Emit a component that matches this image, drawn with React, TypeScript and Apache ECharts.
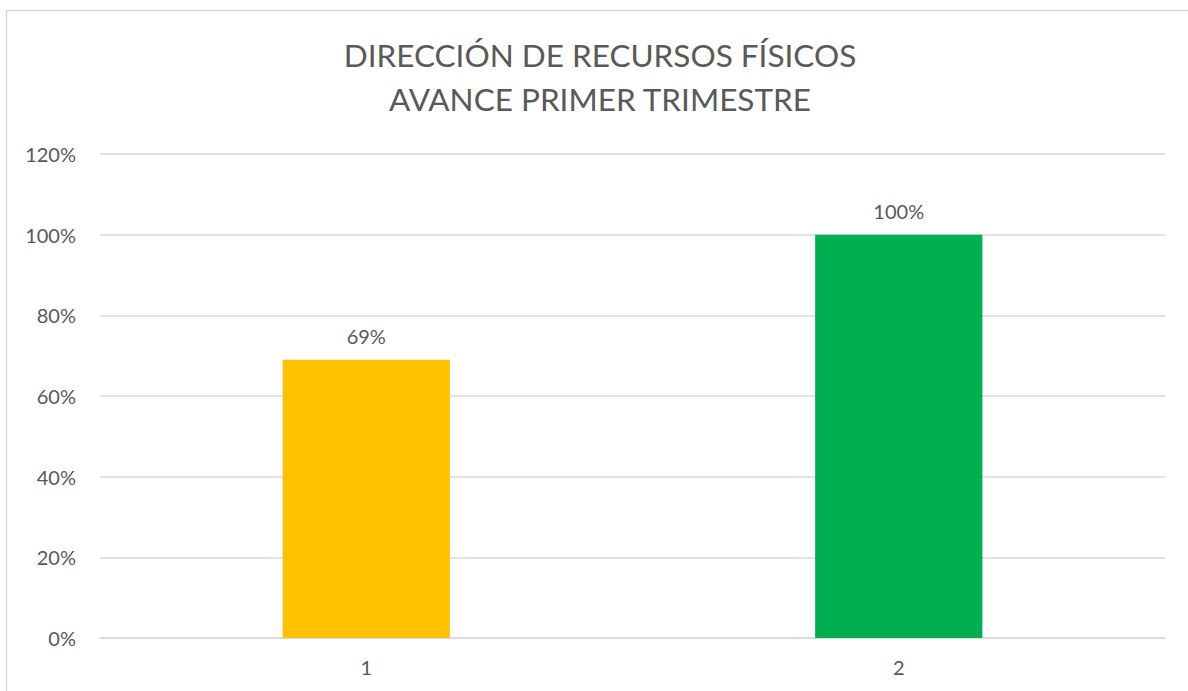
import React, { useEffect, useRef } from "react";
import * as echarts from "echarts";

const titleLines = ["DIRECCIÓN DE RECURSOS FÍSICOS", "AVANCE PRIMER TRIMESTRE"];
const categories = ["1", "2"];
const values = [0.69, 1.0];
const barColors = ["#FFC000", "#00B050"];
const yTicks = { min: 0, max: 1.2, interval: 0.2 };

const FONT = "Lato, 'Open Sans', sans-serif";
const TEXT = "#595959";

export default function App() {
  const ref = useRef<HTMLDivElement>(null);
  useEffect(() => {
    if (!ref.current) return;
    const chart = echarts.init(ref.current, null, { renderer: "svg" });
    chart.setOption({
      animation: false,
      backgroundColor: "#ffffff",
      textStyle: { fontFamily: FONT },
      title: {
        text: titleLines.join("\n"),
        left: 600,
        textAlign: "center",
        top: 33,
        padding: 0,
        textStyle: {
          fontFamily: FONT,
          fontWeight: "normal",
          fontSize: 31.5,
          lineHeight: 44,
          color: TEXT,
        },
      },
      graphic: [
        {
          type: "rect",
          shape: { x: 6.5, y: 10.5, width: 1400, height: 900 },
          style: { fill: "none", stroke: "#d9d9d9", lineWidth: 1.5 },
          silent: true,
        },
      ],
      grid: { left: 100, right: 23, top: 154, bottom: 53 },
      xAxis: {
        type: "category",
        data: categories,
        axisLine: { show: true, lineStyle: { color: "#d9d9d9", width: 1.5 } },
        axisTick: { show: false },
        axisLabel: { color: TEXT, fontSize: 20, margin: 19, fontFamily: FONT },
      },
      yAxis: {
        type: "value",
        min: yTicks.min,
        max: yTicks.max,
        interval: yTicks.interval,
        axisLine: { show: false },
        axisTick: { show: false },
        splitLine: { lineStyle: { color: "#d9d9d9", width: 1.5 } },
        axisLabel: {
          color: TEXT,
          fontSize: 20,
          margin: 24,
          fontFamily: FONT,
          formatter: (v: number) => `${Math.round(v * 100)}%`,
        },
      },
      series: [
        {
          type: "bar",
          data: values.map((v, i) => ({ value: v, itemStyle: { color: barColors[i] } })),
          barWidth: "31.4%",
          label: {
            show: true,
            position: "top",
            distance: 14,
            color: TEXT,
            fontSize: 20,
            fontFamily: FONT,
            formatter: (p: any) => `${Math.round(p.value * 100)}%`,
          },
        },
      ],
    });
    return () => chart.dispose();
  }, []);
  return (
    <div
      ref={ref}
      style={{ position: "absolute", left: 0, top: 0, width: 1188, height: 691 }}
    />
  );
}
